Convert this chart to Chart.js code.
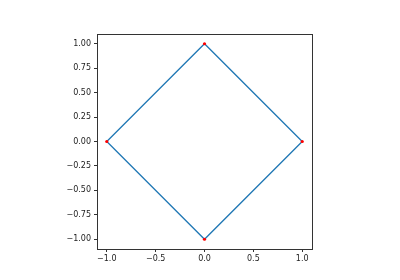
<!DOCTYPE html>
<html>
<head>
<meta charset="utf-8">
<script src="https://cdn.jsdelivr.net/npm/chart.js@4/dist/chart.umd.min.js"></script>
<style>
  html, body { margin: 0; padding: 0; background: #fff; }
  #wrap { width: 400px; height: 280px; }
</style>
</head>
<body>
<div id="wrap"><canvas id="chart" width="400" height="280"></canvas></div>
<script>
// diamond corners, closed back to the start
const xs = [1, 0, -1, 0, 1];
const ys = [0, 1, 0, -1, 0];
const xTicks = [-1.0, -0.5, 0.0, 0.5, 1.0];
const yTicks = [-1.0, -0.75, -0.5, -0.25, 0.0, 0.25, 0.5, 0.75, 1.0];

const pts = xs.map((x, i) => ({ x: x, y: ys[i] }));
const minus = s => s.replace('-', '\u2212');

// frame round the plot area (matplotlib spines)
const frame = {
    id: 'frame',
    afterDraw(chart) {
        const a = chart.chartArea, c = chart.ctx;
        c.save();
        c.strokeStyle = '#333';
        c.lineWidth = 1;
        c.strokeRect(Math.round(a.left) + 0.5, Math.round(a.top) + 0.5,
            Math.round(a.right - a.left), Math.round(a.bottom - a.top));
        c.restore();
    }
};

const tickFont = { family: 'DejaVu Sans', size: 8 };

new Chart(document.getElementById('chart'), {
    type: 'scatter',
    data: {
        datasets: [{
            data: pts,
            showLine: true,
            borderColor: '#1f77b4',
            borderWidth: 1.3,
            pointRadius: 0,
            order: 2
        }, {
            data: pts.slice(0, 4),
            showLine: false,
            backgroundColor: '#ff0000',
            borderWidth: 0,
            pointRadius: 1.6,
            order: 1
        }]
    },
    options: {
        responsive: false,
        animation: false,
        layout: { padding: { left: 0, top: 34, right: 88, bottom: 0 } },
        plugins: { legend: { display: false }, tooltip: { enabled: false } },
        scales: {
            x: {
                type: 'linear',
                min: -1.1, max: 1.1,
                afterBuildTicks: s => { s.ticks = xTicks.map(v => ({ value: v })); },
                afterFit: s => { s.height = 31; },
                grid: { drawOnChartArea: false, drawTicks: true, tickLength: 3, color: '#333' },
                border: { display: false },
                ticks: {
                    font: tickFont, color: '#222', padding: 2, maxRotation: 0,
                    callback: v => minus(v.toFixed(1))
                }
            },
            y: {
                type: 'linear',
                min: -1.1, max: 1.1,
                afterBuildTicks: s => { s.ticks = yTicks.map(v => ({ value: v })); },
                afterFit: s => { s.width = 97; },
                grid: { drawOnChartArea: false, drawTicks: true, tickLength: 3, color: '#333' },
                border: { display: false },
                ticks: {
                    font: tickFont, color: '#222', padding: 3,
                    callback: v => minus(v.toFixed(2))
                }
            }
        }
    },
    plugins: [frame]
});
</script>
</body>
</html>
